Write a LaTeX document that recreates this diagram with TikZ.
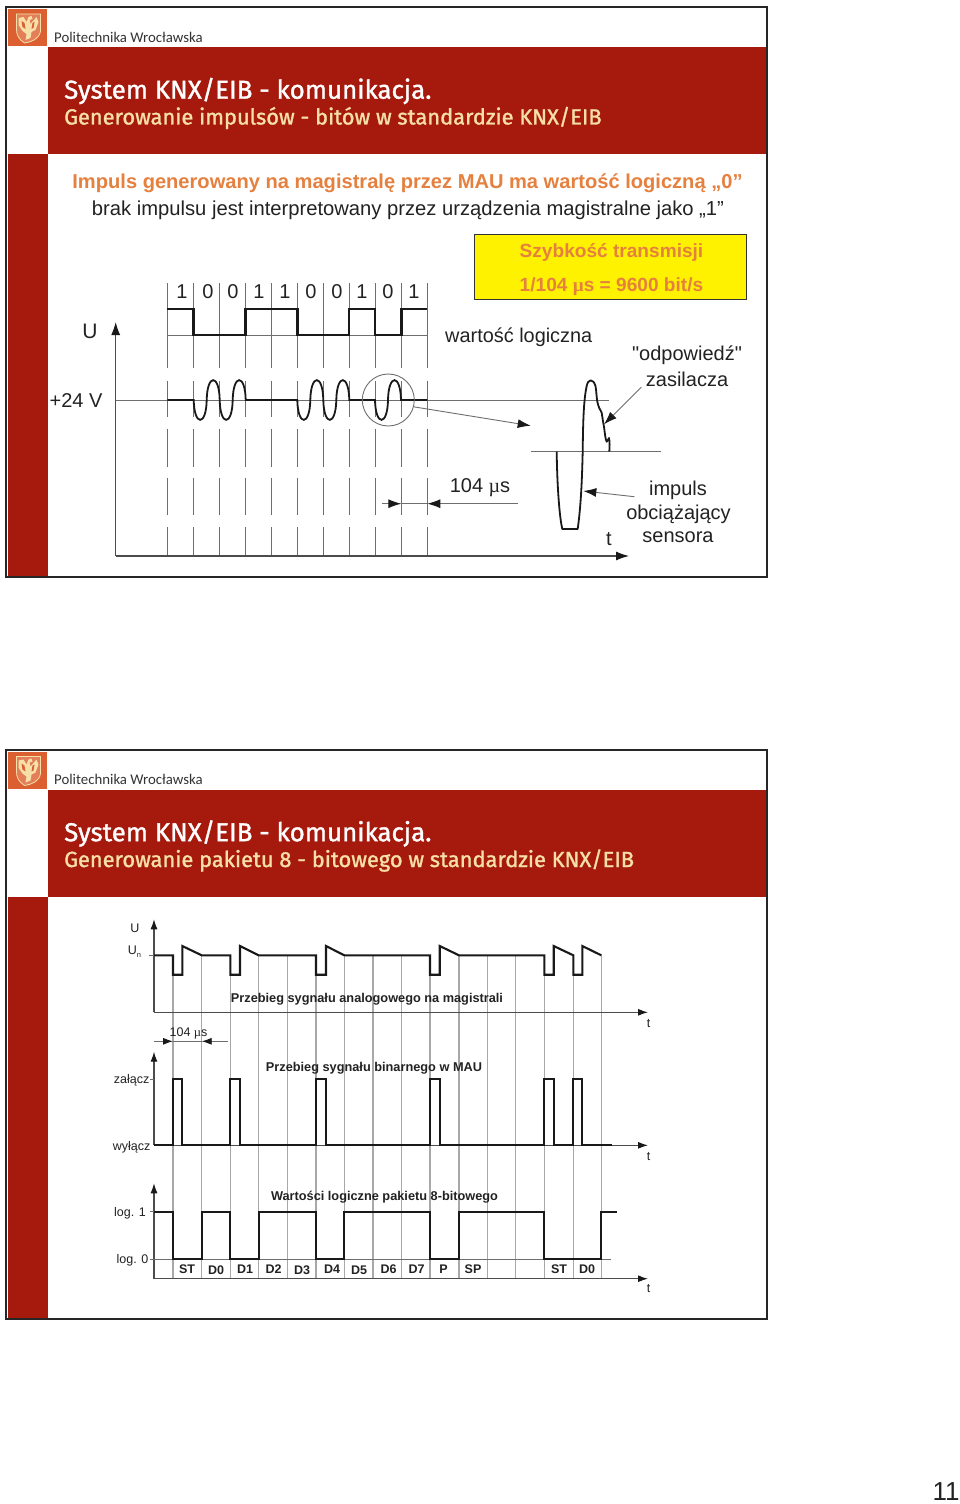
\documentclass[tikz,border=0pt]{standalone}
\usepackage{fontspec}
\setmainfont{Liberation Sans}
\newfontfamily\plainfont{Liberation Sans}
\newfontfamily\symf{Liberation Serif}
\newfontfamily\titlefont[FakeBold=1.3]{Fira Sans}
\newfontfamily\logofont{Carlito}
\usetikzlibrary{arrows.meta}
\definecolor{band}{HTML}{A61A0E}
\definecolor{orangetxt}{HTML}{E5803F}
\definecolor{cream}{HTML}{F6E0A8}
\definecolor{logoorange}{HTML}{DB5F30}
\definecolor{inktxt}{HTML}{222222}
\definecolor{thing}{HTML}{6E6E6E}
\definecolor{barg}{HTML}{A8A8A8}
\tikzset{
  sz/.style={font=\fontsize{#1}{#1}\selectfont},
  txt/.style={inner sep=0pt,text=inktxt},
  thin1/.style={draw=thing,line width=0.9pt},
  gridg/.style={draw=barg,line width=1.3pt},
  wave/.style={draw=black!90,line width=2.9pt,line join=miter},
  waveb/.style={draw=black!90,line width=2.1pt,line join=miter},
  axisl/.style={draw=black!70,line width=1.1pt},
  tip/.style={-{Latex[length=13pt,width=9pt,black!90]}},
  tips/.style={-{Latex[length=10pt,width=7pt,black!90]}},
}
% #1 top y, #2 title, #3 subtitle, #4 height, #5 name suffix
\newcommand{\header}[5]{%
  \fill[band] (48,#1+40) rectangle (767,#1+147);
  \fill[band] (8,#1+147) rectangle (48,#1+#4);
  \draw[black!85,line width=2pt] (6,#1) rectangle (767,#1+#4);
  \fill[logoorange] (8,#1+2) rectangle (47,#1+39);
  \begin{scope}[shift={(27.5,#1+20)}]
    \draw[cream,line width=0.8pt,fill=logoorange!80!white] (-11,-13) -- (13,-13) -- (13,4) .. controls (12,12) and (4,15) .. (-3,16) .. controls (-9,12) and (-11,8) .. (-11,2) -- cycle;
    \fill[cream] (-9,-9) -- (-4,-10) -- (-1,-5) -- (1,-10) -- (4,-11) -- (5,-8) -- (2,-7) -- (3,-3) -- (9,-10) -- (11,-5) -- (8,3) -- (4,5) -- (3,11) -- (-2,13) -- (-1,7) -- (-5,4) -- (-9,-2) -- cycle;
    \fill[logoorange] (-6,-6) -- (-3,-4) -- (-2,2) -- (-5,0) -- cycle;
    \fill[logoorange] (5,-4) -- (7,-5) -- (6,1) -- (4,2) -- cycle;
  \end{scope}
  \node[anchor=west,inner sep=0pt,text=black!80,font=\logofont\fontsize{14.8}{14.8}\selectfont] (logo#5) at (54,#1+30) {Politechnika Wrocławska};
  \node[anchor=west,inner sep=0pt,text=white,font=\titlefont\fontsize{25.9}{25.9}\selectfont] (title#5) at (64,#1+84) {#2};
  \node[anchor=west,inner sep=0pt,text=cream,font=\titlefont\fontsize{21.85}{21.85}\selectfont] (sub#5) at (64,#1+111) {#3};
}
\begin{document}
\begin{tikzpicture}[x=1pt,y=-1pt]
\useasboundingbox (0,0) rectangle (960,1504);
\fill[white] (0,0) rectangle (960,1504);

%% ---------- slide 1
\header{7}{System KNX/EIB - komunikacja.}{Generowanie impulsów - bitów w standardzie KNX/EIB}{570}{a}
\node[txt,text=orangetxt,font=\bfseries\fontsize{20.1}{20.1}\selectfont] (h1) at (407.5,183.5) {Impuls generowany na magistralę przez MAU ma wartość logiczną „0”};
\node[txt,sz=20.2] (h2) at (408,210) {brak impulsu jest interpretowany przez urządzenia magistralne jako „1”};
\node[draw=black!80,line width=1pt,fill=yellow,minimum width=272pt,minimum height=65pt,inner sep=0pt] (speed) at (610,266.5) {};
\node[inner sep=0pt,text=orangetxt,font=\bfseries\fontsize{19.1}{19.1}\selectfont] (sp1) at (611.5,252) {Szybkość transmisji};
\node[inner sep=0pt,text=orangetxt,font=\bfseries\fontsize{19.1}{19.1}\selectfont] (sp2) at (611.5,287) {1/104 {\symf µ}s = 9600 bit/s};

% grid
\foreach \x in {167.3,193.7,219.7,245.3,271.3,297.3,323.3,349,375,401.3,427.3}{
  \draw[thin1] (\x,283) -- (\x,368);
  \draw[thin1] (\x,381) -- (\x,417);
  \draw[thin1] (\x,429) -- (\x,467);
  \draw[thin1] (\x,478) -- (\x,515);
  \draw[thin1] (\x,527) -- (\x,556);
}
\draw[thin1] (167.3,335) -- (427.3,335);
\coordinate (u0) at (115.7,556);
\coordinate (ut) at (115.7,322);
\coordinate (tt) at (629,556);
\draw[axisl,tip] (u0) -- (ut);
\draw[axisl,tip] (u0) -- (tt);
\draw[thin1] (115.7,400) -- (609,400);
\draw[wave] (167,309) -- (193.7,309) -- (193.7,335) -- (245.3,335) -- (245.3,309) -- (297.3,309) -- (297.3,335) -- (349,335) -- (349,309) -- (375,309) -- (375,335) -- (401.3,335) -- (401.3,309) -- (427.3,309);
\newcommand{\wv}[1]{.. controls (#1+0.5,426.5) and (#1+12.5,426.5) .. (#1+13,400) .. controls (#1+13.5,373.5) and (#1+25.5,373.5) .. (#1+26,400)}
\draw[black!90,line width=1.8pt] (167.3,400) -- (193.7,400) \wv{193.7} \wv{219.7} -- (297.3,400) \wv{297.3} \wv{323.3} -- (375,400) \wv{375} -- (427.3,400);
\node[draw=thing,line width=0.9pt,circle,minimum size=52pt,inner sep=0pt] (circ) at (388.3,400) {};
\coordinate (ctip) at (530.7,425.7);
\draw[thin1,tip] (circ.-15) -- (ctip);
% dimension
\coordinate (d1) at (381.7,503.7);
\coordinate (d2) at (401.3,503.7);
\coordinate (d3) at (518,503.7);
\coordinate (d4) at (427.3,503.7);
\draw[thin1,tip] (d1) -- (d2);
\draw[thin1,tip] (d3) -- (d4);
\draw[thin1] (d2) -- (d4);
% big pulse
\draw[thin1] (531,451.7) -- (660.7,451.7);
\draw[black!90,line width=1.8pt,line join=round] (556.7,451.7) .. controls (557,480) and (559,515) .. (562.3,529) -- (577.7,529) .. controls (581,505) and (582,480) .. (582.7,451.7) .. controls (583,425) and (583.5,400) .. (586.7,386) .. controls (588,379) and (593,378) .. (595.5,386) .. controls (596.5,392) and (596.5,397) .. (597.3,401.7) .. controls (598.5,407) and (600,410) .. (601.7,412.7) .. controls (602.5,418) and (603,422) .. (604,426.7) .. controls (604.8,433) and (605.5,440) .. (606.7,441.7) .. controls (608,441) and (608,439) .. (609,438) .. controls (610,442) and (609.5,447) .. (609.3,451.7);
\coordinate (ra) at (641.3,387.3);
\coordinate (rb) at (604,424.3);
\draw[thin1,tip] (ra) -- (rb);
\coordinate (ia) at (634.3,496.7);
\coordinate (ib) at (583.3,491);
\draw[thin1,tip] (ia) -- (ib);
% labels
\node[txt,sz=21] (lu) at (90,331) {U};
\node[txt,sz=20] (lv) at (76,401) {+24 V};
\foreach \x/\d/\n in {182/1/a,208/0/b,233/0/c,259/1/d,285/1/e,311/0/f,337/0/g,362/1/h,388/0/i,414/1/j}{
  \node[txt,sz=20] (bit\n) at (\x,291.5) {\d};
}
\node[txt,sz=19.9,anchor=west] (wl) at (445,337) {wartość logiczna};
\node[txt,font=\plainfont\fontsize{20}{20}\selectfont] (od) at (687,355) {"odpowiedź"};
\node[txt,sz=20] (za) at (687,379) {zasilacza};
\node[txt,sz=20] (us) at (480,488) {104 {\symf µ}s};
\node[txt,sz=20] (im) at (678,490) {impuls};
\node[txt,sz=20] (ob) at (678.5,514) {obciążający};
\node[txt,sz=20] (se) at (678,537) {sensora};
\node[txt,sz=20] (tt1) at (609,539) {t};

%% ---------- slide 2
\header{749.5}{System KNX/EIB - komunikacja.}{Generowanie pakietu 8 - bitowego w standardzie KNX/EIB}{569.5}{b}
\foreach \x in {173,201.7,230.3,258.7,287.3,316,344.3,373,401.5,430,459,487.3,515.7,544.3,573.3,601.3}{
  \draw[gridg] (\x,955) -- (\x,1278.7);
}
% axes
\coordinate (a1o) at (154,1012.3); \coordinate (a1t) at (154,919.3); \coordinate (a1r) at (648,1012.3);
\draw[axisl,tips] (a1o) -- (a1t);
\draw[axisl,tips] (a1o) -- (a1r);
\coordinate (a2o) at (154,1145.3); \coordinate (a2t) at (154,1051.7); \coordinate (a2r) at (648,1145.3);
\draw[axisl,tips] (a2o) -- (a2t);
\draw[axisl,tips] (a2o) -- (a2r);
\coordinate (a3o) at (154,1278.7); \coordinate (a3t) at (154,1183.3); \coordinate (a3r) at (648,1278.7);
\draw[axisl,tips] (a3o) -- (a3t);
\draw[axisl,tips] (a3o) -- (a3r);
\draw[thin1] (149,955.3) -- (154,955.3);
\draw[thin1] (150,1079.3) -- (154,1079.3);
\draw[thin1] (150,1211.7) -- (154,1211.7);
\draw[thin1] (150,1259) -- (611,1259);
% signals
\draw[waveb] (154,955.3) -- (173,955.3) -- (173,974.7) -- (182.3,974.7) -- (182.3,946) -- (201.7,955.3) -- (230.3,955.3) -- (230.3,974.7) -- (240,974.7) -- (240,946) -- (258.7,955.3) -- (316,955.3) -- (316,974.7) -- (326,974.7) -- (326,946) -- (344.3,955.3) -- (430,955.3) -- (430,974.7) -- (439.7,974.7) -- (439.7,946) -- (459,955.3) -- (544.3,955.3) -- (544.3,974.7) -- (553.7,974.7) -- (553.7,946) -- (573.3,955.3) -- (573.3,974.7) -- (582.3,974.7) -- (582.3,946) -- (601.3,955.3);
\draw[waveb] (154,1145.3) -- (173,1145.3) -- (173,1079.3) -- (182.3,1079.3) -- (182.3,1145.3) -- (230.3,1145.3) -- (230.3,1079.3) -- (240,1079.3) -- (240,1145.3) -- (316,1145.3) -- (316,1079.3) -- (326,1079.3) -- (326,1145.3) -- (430,1145.3) -- (430,1079.3) -- (439.7,1079.3) -- (439.7,1145.3) -- (544.3,1145.3) -- (544.3,1079.3) -- (553.7,1079.3) -- (553.7,1145.3) -- (573.3,1145.3) -- (573.3,1079.3) -- (582.3,1079.3) -- (582.3,1145.3) -- (611.5,1145.3);
\draw[waveb] (154,1211.7) -- (173,1211.7) -- (173,1259) -- (201.7,1259) -- (201.7,1211.7) -- (230.3,1211.7) -- (230.3,1259) -- (258.7,1259) -- (258.7,1211.7) -- (316,1211.7) -- (316,1259) -- (344.3,1259) -- (344.3,1211.7) -- (430,1211.7) -- (430,1259) -- (459,1259) -- (459,1211.7) -- (544.3,1211.7) -- (544.3,1259) -- (601.3,1259) -- (601.3,1211.7) -- (616.5,1211.7);
% dimension
\coordinate (e1) at (154,1041.3); \coordinate (e2) at (173,1041.3); \coordinate (e3) at (228,1041.3); \coordinate (e4) at (201.7,1041.3);
\draw[thin1,tips] (e1) -- (e2);
\draw[thin1,tips] (e3) -- (e4);
\draw[thin1] (e2) -- (e4);
% labels
\node[txt,sz=12.5] (lU) at (135,928) {U};
\node[txt,sz=12.5] (lUn) at (134.5,952) {U\raisebox{-3pt}{\fontsize{7.5}{7.5}\selectfont n}};
\node[txt,font=\bfseries\fontsize{12.75}{12.75}\selectfont] (t1) at (367,999) {Przebieg sygnału analogowego na magistrali};
\node[txt,font=\bfseries\fontsize{12.75}{12.75}\selectfont] (t2) at (374,1068) {Przebieg sygnału binarnego w MAU};
\node[txt,font=\bfseries\fontsize{12.75}{12.75}\selectfont] (t3) at (384.5,1197) {Wartości logiczne pakietu 8-bitowego};
\node[txt,sz=12.5] (l104) at (188.5,1033) {104 {\symf µ}s};
\node[txt,sz=12.5,anchor=east] (lz) at (149.5,1080.5) {załącz};
\node[txt,sz=12.5,anchor=east] (lw) at (150.5,1147.5) {wyłącz};
\node[txt,sz=12.5] (ll1) at (130,1213.5) {log. 1};
\node[txt,sz=12.5] (ll0) at (132.5,1260.5) {log. 0};
\node[txt,sz=12.5] (t1a) at (648.5,1023) {t};
\node[txt,sz=12.5] (t2a) at (648.5,1156) {t};
\node[txt,sz=12.5] (t3a) at (648.5,1288) {t};
\foreach \x/\y/\s/\n in {187/1269/ST/pa,216/1270/D0/pb,245/1269/D1/pc,273.5/1269/D2/pd,302/1270/D3/pe,332/1269/D4/pf,359/1270/D5/pg,388.5/1269/D6/ph,416.5/1269/D7/pi,443.5/1269/P/pj,473/1269/SP/pk,559/1269/ST/pl,587/1269/D0/pm}{
  \node[txt,font=\bfseries\fontsize{12.5}{12.5}\selectfont] (\n) at (\x,\y) {\s};
}
\node[txt,sz=26] (pg) at (946,1492) {11};
\end{tikzpicture}
\end{document}
